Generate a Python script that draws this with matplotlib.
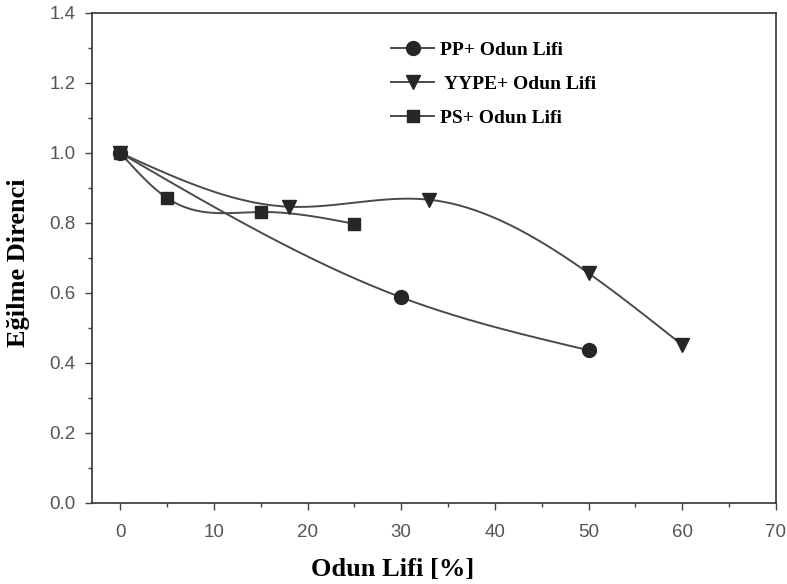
import numpy as np
import matplotlib
matplotlib.use("Agg")
import matplotlib.pyplot as plt
from matplotlib.ticker import MultipleLocator

# Data
pp_x = [0, 30, 50]
pp_y = [1.0, 0.587, 0.436]
yype_x = [0, 18, 33, 50, 60]
yype_y = [1.0, 0.846, 0.866, 0.656, 0.451]
ps_x = [0, 5, 15, 25]
ps_y = [1.0, 0.871, 0.831, 0.797]
labels = ["PP+ Odun Lifi", " YYPE+ Odun Lifi", "PS+ Odun Lifi"]


def natural_spline(x, y, n=200):
    x = np.asarray(x, float)
    y = np.asarray(y, float)
    k = len(x)
    h = np.diff(x)
    A = np.zeros((k, k))
    b = np.zeros(k)
    A[0, 0] = 1
    A[-1, -1] = 1
    for i in range(1, k - 1):
        A[i, i - 1] = h[i - 1]
        A[i, i] = 2 * (h[i - 1] + h[i])
        A[i, i + 1] = h[i]
        b[i] = 3 * ((y[i + 1] - y[i]) / h[i] - (y[i] - y[i - 1]) / h[i - 1])
    c = np.linalg.solve(A, b)
    xs = np.linspace(x[0], x[-1], n)
    ys = np.empty_like(xs)
    for j, xv in enumerate(xs):
        i = min(np.searchsorted(x, xv, side="right") - 1, k - 2)
        bi = (y[i + 1] - y[i]) / h[i] - h[i] * (2 * c[i] + c[i + 1]) / 3
        di = (c[i + 1] - c[i]) / (3 * h[i])
        t = xv - x[i]
        ys[j] = y[i] + bi * t + c[i] * t ** 2 + di * t ** 3
    return xs, ys


fig = plt.figure(figsize=(7.87, 5.84), dpi=100)
ax = fig.add_axes([0.117, 0.139, 0.869, 0.839])

line_c = "#4a4a4a"
mark_c = "#262626"

series = [(pp_x, pp_y, "o", 10), (yype_x, yype_y, "v", 10), (ps_x, ps_y, "s", 9)]
handles = []
for (xs, ys, m, ms), lab in zip(series, labels):
    sx, sy = natural_spline(xs, ys)
    ax.plot(sx, sy, color=line_c, lw=1.4, zorder=2)
    ax.plot(xs, ys, linestyle="none", marker=m, ms=ms, color=mark_c, zorder=3)
    h, = ax.plot([], [], color=line_c, lw=1.4, marker=m, ms=ms,
                 markerfacecolor=mark_c, markeredgecolor=mark_c)
    handles.append(h)

ax.set_xlim(-3, 70)
ax.set_ylim(0, 1.4)
ax.xaxis.set_major_locator(MultipleLocator(10))
ax.xaxis.set_minor_locator(MultipleLocator(5))
ax.yaxis.set_major_locator(MultipleLocator(0.2))
ax.yaxis.set_minor_locator(MultipleLocator(0.1))
ax.yaxis.set_major_formatter(matplotlib.ticker.FormatStrFormatter("%.1f"))

for sp in ax.spines.values():
    sp.set_color("#333333")
    sp.set_linewidth(1.2)

ax.tick_params(which="major", direction="out", length=5, width=1, color="#444444",
               labelsize=13.5, labelcolor="#555555")
ax.tick_params(axis="x", which="major", pad=10)
ax.tick_params(axis="y", which="major", pad=7)
ax.tick_params(which="minor", direction="out", length=3, width=1, color="#444444")
ax.tick_params(top=False, right=False, which="both")
for t in ax.get_xticklabels() + ax.get_yticklabels():
    t.set_fontfamily("Liberation Sans")

ax.set_xlabel("Odun Lifi [%]", fontfamily="Liberation Serif", fontweight="bold",
              fontsize=19)
ax.set_ylabel("Eğilme Direnci", fontfamily="Liberation Serif", fontweight="bold",
              fontsize=19)
ax.xaxis.set_label_coords(0.44, -0.112)
ax.yaxis.set_label_coords(-0.091, 0.49)

leg = ax.legend(handles, labels, loc="upper left", bbox_to_anchor=(0.412, 0.978),
                frameon=False, prop={"family": "Liberation Serif", "weight": "bold", "size": 14},
                labelspacing=0.85, handlelength=2.2, handletextpad=0.3)

fig.savefig("out.png", dpi=100)
